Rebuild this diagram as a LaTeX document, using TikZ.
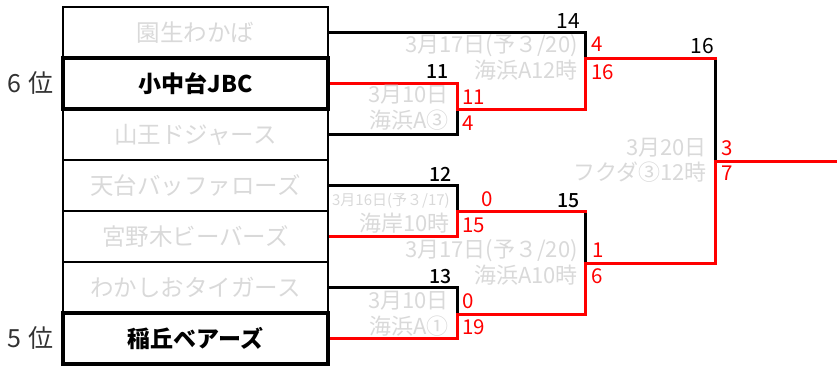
\documentclass[tikz,border=0pt]{standalone}
\usepackage{fontspec}
\setmainfont{Noto Sans CJK JP}
\newfontfamily\jpmed{Noto Sans CJK JP}[UprightFont=* Medium]
\definecolor{lgray}{RGB}{217,217,217}
\definecolor{rk}{RGB}{50,50,50}
\begin{document}
\begin{tikzpicture}[x=1pt,y=-1pt,
  team/.style={draw, line width=2.5pt, minimum width=265pt, minimum height=51pt,
    inner sep=0pt, outer sep=0pt, text=lgray, font=\fontsize{23.5}{25}\selectfont},
  seed/.style={team, line width=4.5pt, text=black, font=\fontsize{23}{25}\selectfont\bfseries},
  blk/.style={line width=3pt, black, line cap=rect},
  win/.style={line width=3pt, red, line cap=rect},
  date/.style={text=lgray, anchor=base east, inner sep=0pt, font=\fontsize{22}{24}\selectfont},
  sdate/.style={date, font=\fontsize{15}{16}\selectfont},
  score/.style={text=red, anchor=base west, inner sep=0pt, font=\fontsize{20.5}{24}\selectfont},
  mnum/.style={anchor=base east, inner sep=0pt, font=\fontsize{19.5}{22}\selectfont\jpmed},
  rnum/.style={anchor=base east, inner sep=0pt, font=\fontsize{21}{24}\selectfont},
  rank/.style={anchor=base west, inner sep=0pt, text=rk, font=\fontsize{25}{27}\selectfont}]
\useasboundingbox (0,0) rectangle (837,367);
% junctions
\coordinate (m11) at (457,109);
\coordinate (m12) at (457,211.5);
\coordinate (m13) at (457,314);
\coordinate (m14) at (585,58);
\coordinate (t15) at (585,211.5);
\coordinate (m15) at (585,263);
\coordinate (t16) at (715,58);
\coordinate (m16) at (715,161);
\coordinate (fin) at (837,161);
% team box positions
\path (195.5,32.5) node[team,draw=none,text=white] (b1) {};
\path (195.5,83.5) node[team,draw=none,text=white] (b2) {};
\path (195.5,134.5) node[team,draw=none,text=white] (b3) {};
\path (195.5,185.5) node[team,draw=none,text=white] (b4) {};
\path (195.5,236.5) node[team,draw=none,text=white] (b5) {};
\path (195.5,287.5) node[team,draw=none,text=white] (b6) {};
\path (195.5,338.5) node[team,draw=none,text=white] (b7) {};
% losing lines
\draw[blk] (b1.east) -| (m14);
\draw[blk] (b3.east) -| (m11);
\draw[blk] (b4.east) -| (m12);
\draw[blk] (b6.east) -| (m13);
\draw[blk] (t15) -- (m15);
\draw[blk] (t16) -- (m16);
% winning lines
\draw[win] (b2.east) -| (m11);
\draw[win] (m11) -| (m14);
\draw[win] (m14) -- (t16);
\draw[win] (b5.east) -| (m12);
\draw[win] (m12) -- (t15);
\draw[win] (b7.east) -| (m13);
\draw[win] (m13) -| (m15);
\draw[win] (m15) -| (m16);
\draw[win] (m16) -- (fin);
% team boxes
\node[team] (t1) at (b1) {園生わかば};
\node[team] (t3) at (b3) {山王ドジャース};
\node[team] (t4) at (b4) {天台バッファローズ};
\node[team] (t5) at (b5) {宮野木ビーバーズ};
\node[team] (t6) at (b6) {わかしおタイガース};
\node[seed] (s2) at (b2) {小中台JBC};
\node[seed] (s7) at (b7) {稲丘ベアーズ};
% rank labels
\node[rank] (r6) at (7,92.5) {6\hspace{0.3em}位};
\node[rank] (r5) at (7,347) {5\hspace{0.3em}位};
% match numbers
\node[rnum] (n14) at (580,28) {14};
\node[rnum] (n16) at (714,53) {16};
\node[mnum] (n11) at (449,78) {11};
\node[mnum] (n12) at (452,181) {12};
\node[mnum] (n13) at (452,283) {13};
\node[mnum] (n15) at (580,207) {15};
% dates
\node[date] (d14a) at (578,52) {3月17日(予３/20)};
\node[date] (d14b) at (578,78.5) {海浜A12時};
\node[date] (d11a) at (449,102) {3月10日};
\node[date] (d11b) at (449,128) {海浜A③};
\node[date] (d16a) at (707,155) {3月20日};
\node[date] (d16b) at (707,180) {フクダ③12時};
\node[sdate] (d12a) at (450,205) {3月16日(予３/17)};
\node[date] (d12b) at (450,231.5) {海岸10時};
\node[date] (d15a) at (578,257) {3月17日(予３/20)};
\node[date] (d15b) at (578,283) {海浜A10時};
\node[date] (d13a) at (449,308) {3月10日};
\node[date] (d13b) at (449,334) {海浜A①};
% scores
\node[score] (s14a) at (591,51) {4};
\node[score] (s14b) at (591,79) {16};
\node[score] (s11a) at (462,104) {11};
\node[score] (s11b) at (462,130) {4};
\node[score] (s16a) at (721,155) {3};
\node[score] (s16b) at (721,180.5) {7};
\node[score] (s12a) at (481,206.5) {0};
\node[score] (s12b) at (462,232) {15};
\node[score] (s15a) at (592,257) {1};
\node[score] (s15b) at (591,283) {6};
\node[score] (s13a) at (462,308) {0};
\node[score] (s13b) at (462,334) {19};
\end{tikzpicture}
\end{document}
